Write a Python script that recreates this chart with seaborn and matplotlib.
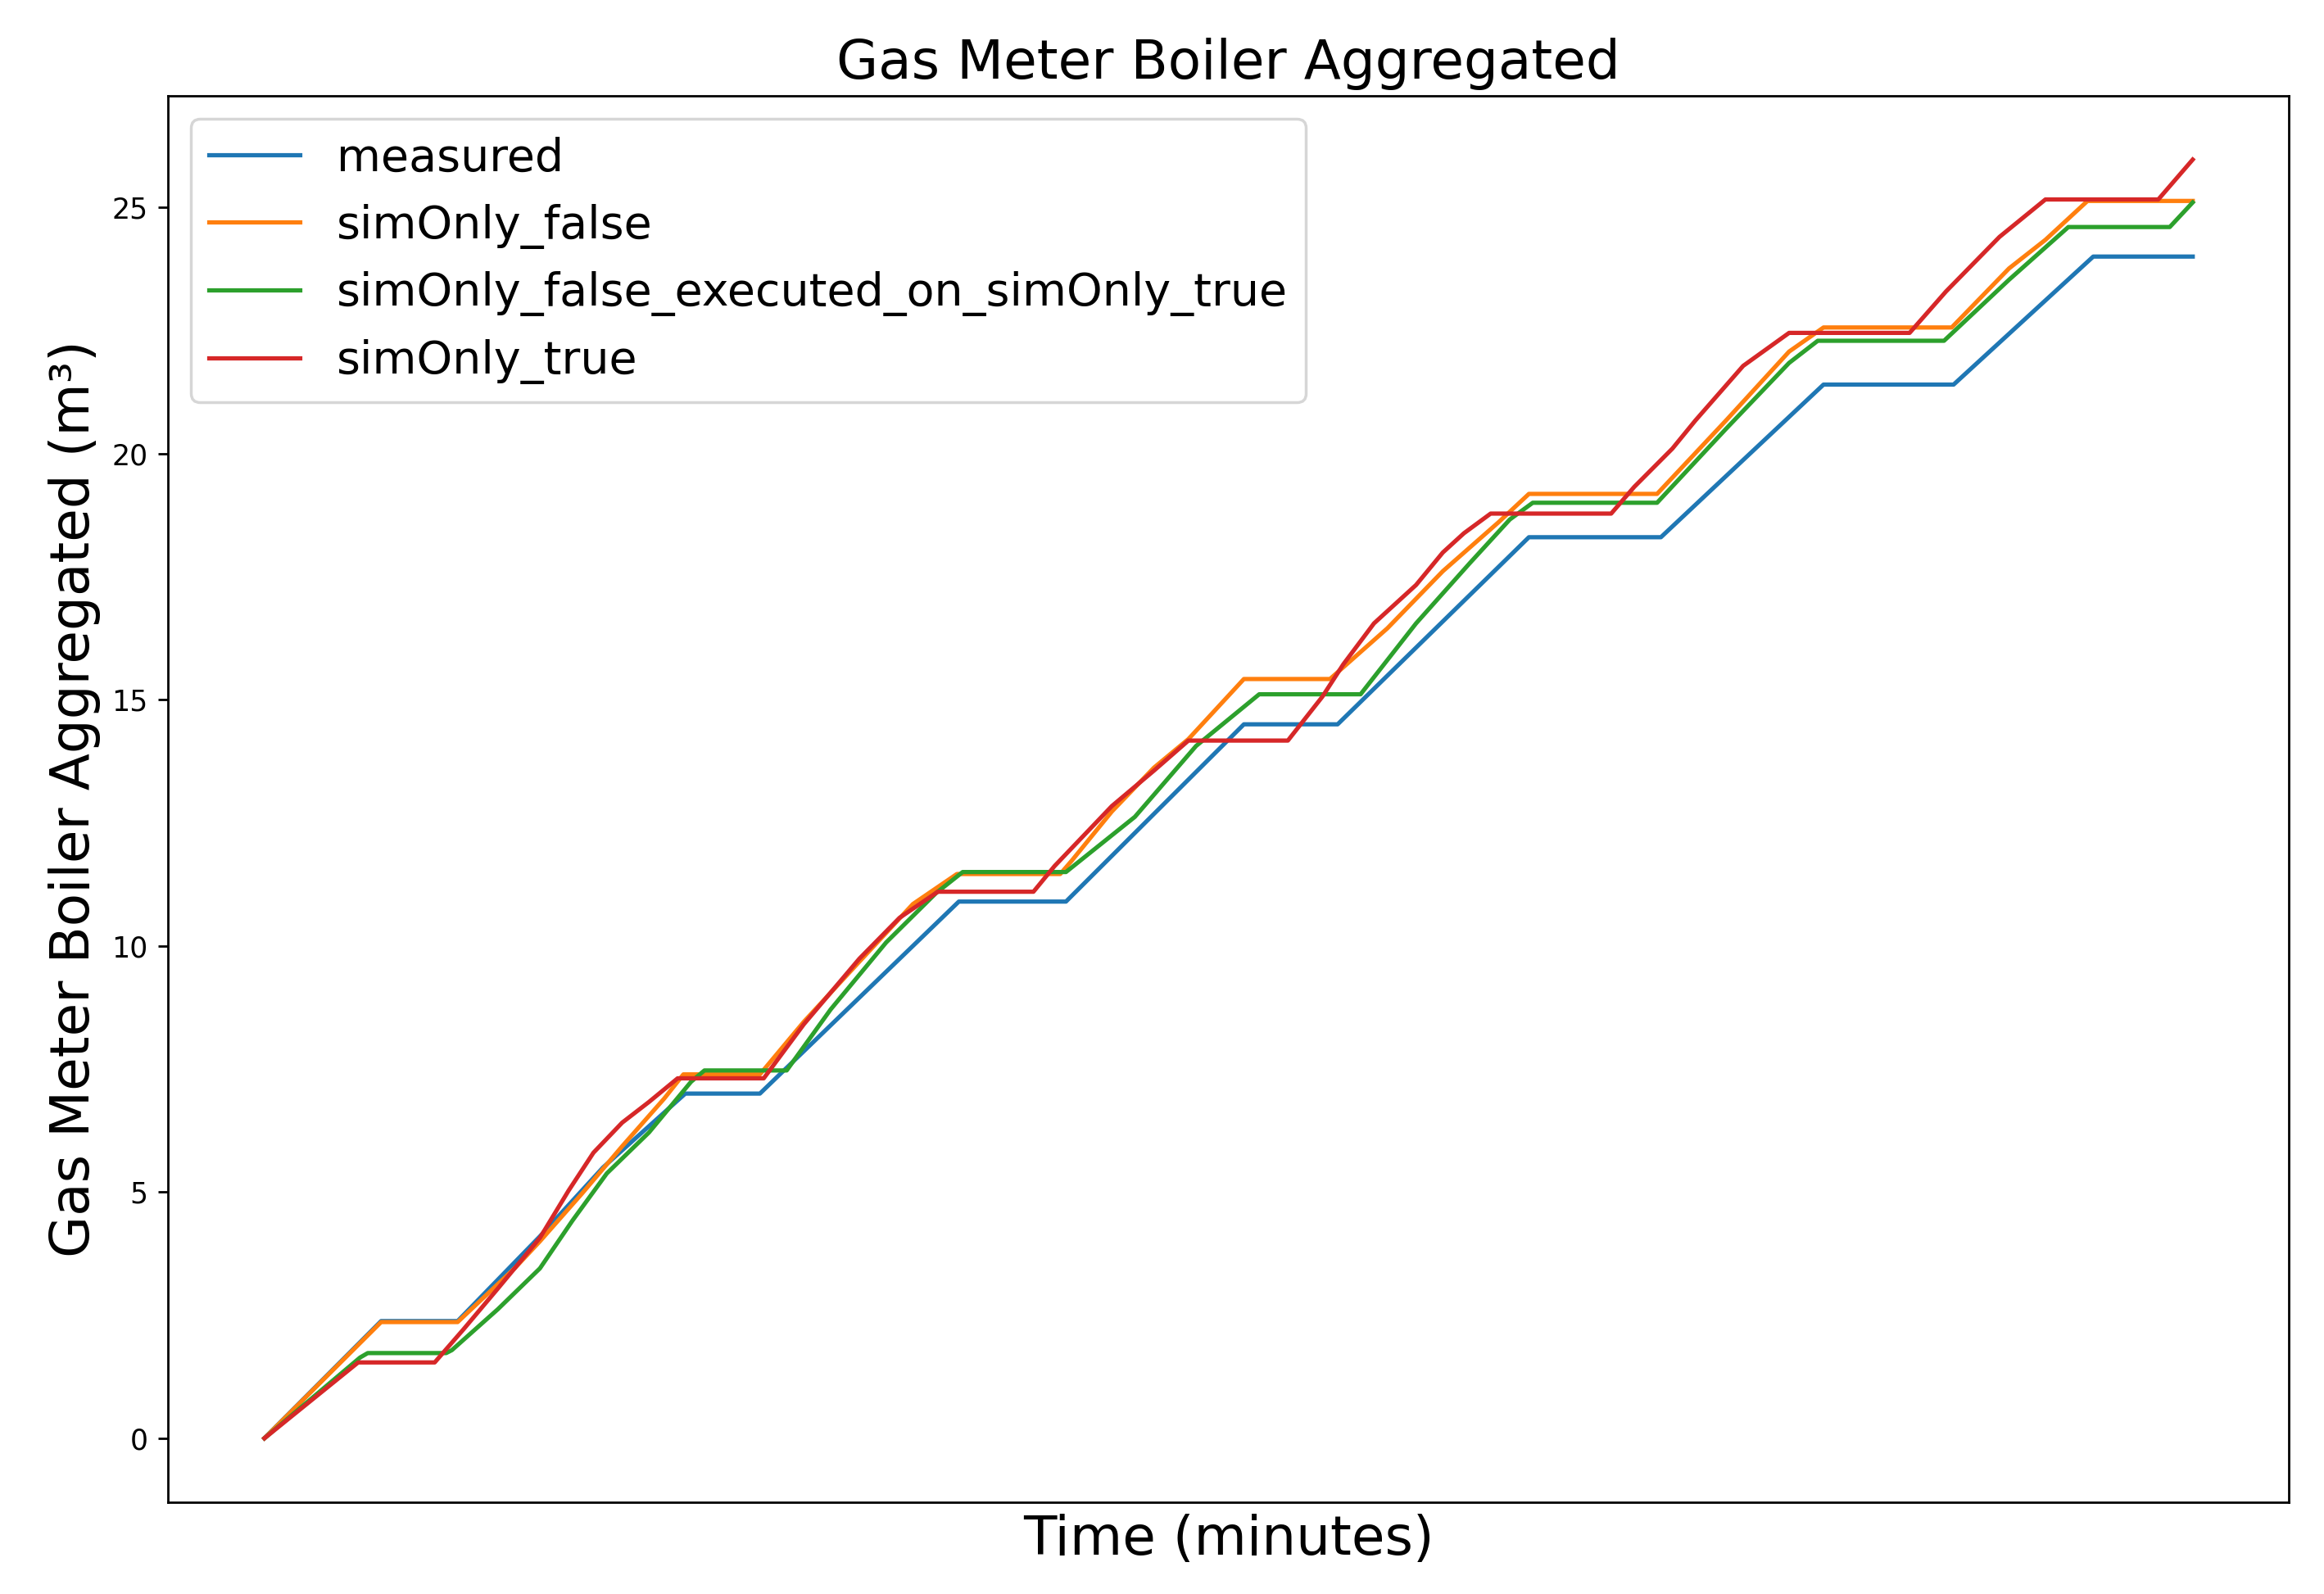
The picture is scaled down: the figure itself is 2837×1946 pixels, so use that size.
import numpy as np
import pandas as pd
import matplotlib
matplotlib.use("Agg")
import matplotlib.pyplot as plt
import seaborn as sns

# values (time in minutes, gas in m3)
measured_t = [0, 610, 1010, 1440, 1770, 2200, 2590, 3630, 4190, 5120, 5610,
              6610, 7300, 8150, 8830, 9560, 10080]
measured_v = [0, 2.38, 2.38, 4.1, 5.5, 7.0, 7.0, 10.9, 10.9, 14.5, 14.5,
              18.3, 18.3, 21.4, 21.4, 24.0, 24.0]

simfalse_t = [0, 610, 1010, 1310, 1440, 1660, 1870, 2090, 2190, 2590, 2820,
              3110, 3390, 3620, 4160, 4220, 4430, 4650, 4830, 5120, 5570,
              5870, 6160, 6450, 6610, 7280, 7640, 7970, 8150, 8820, 9120,
              9310, 9530, 10080]
simfalse_v = [0, 2.36, 2.36, 3.46, 4.0, 4.97, 5.93, 6.9, 7.39, 7.39, 8.46,
              9.68, 10.85, 11.46, 11.46, 11.73, 12.73, 13.62, 14.2, 15.42, 15.42,
              16.45, 17.61, 18.6, 19.18, 19.18, 20.67, 22.07, 22.56, 22.56, 23.76,
              24.34, 25.13, 25.13]

simexec_t = [0, 500, 540, 950, 980, 1220, 1440, 1610, 1790, 2010, 2230,
             2300, 2730, 2960, 3250, 3510, 3650, 4190, 4550, 4870, 5200,
             5730, 6020, 6300, 6510, 6630, 7280, 7640, 7970, 8120, 8780,
             9120, 9430, 9960, 10080]
simexec_v = [0, 1.64, 1.73, 1.73, 1.79, 2.62, 3.45, 4.42, 5.38, 6.21, 7.24,
             7.47, 7.47, 8.71, 10.07, 11.07, 11.5, 11.5, 12.62, 14.06, 15.11,
             15.11, 16.55, 17.77, 18.66, 19.0, 19.0, 20.5, 21.84, 22.29, 22.29,
             23.53, 24.6, 24.6, 25.1]

simtrue_t = [0, 490, 890, 1040, 1220, 1440, 1590, 1720, 1870, 2010, 2160,
             2610, 2820, 3110, 3320, 3520, 4020, 4130, 4430, 4650, 4830,
             5350, 5530, 5640, 5800, 6020, 6160, 6270, 6410, 7040, 7160,
             7360, 7480, 7730, 7970, 8600, 8790, 9070, 9310, 9900, 10080]
simtrue_v = [0, 1.54, 1.54, 2.21, 3.04, 4.07, 5.03, 5.8, 6.41, 6.83, 7.31,
             7.31, 8.41, 9.74, 10.57, 11.1, 11.1, 11.62, 12.84, 13.56, 14.17,
             14.17, 15.06, 15.72, 16.55, 17.33, 17.99, 18.38, 18.78, 18.78, 19.32,
             20.1, 20.67, 21.78, 22.45, 22.45, 23.29, 24.4, 25.16, 25.16, 25.97]

series_names = ["measured", "simOnly_false",
                "simOnly_false_executed_on_simOnly_true", "simOnly_true"]
colors = ["#1f77b4", "#ff7f0e", "#2ca02c", "#d62728"]

# long table for seaborn
frames = []
for name, t, v in zip(series_names,
                      [measured_t, simfalse_t, simexec_t, simtrue_t],
                      [measured_v, simfalse_v, simexec_v, simtrue_v]):
    frames.append(pd.DataFrame({"time": t, "gas": v, "series": name}))
df = pd.concat(frames, ignore_index=True)

fig, ax = plt.subplots(figsize=(2837 / 250, 1946 / 250), dpi=250)
fig.subplots_adjust(left=0.0723, right=0.985, top=0.940, bottom=0.0576)

sns.lineplot(data=df, x="time", y="gas", hue="series", hue_order=series_names,
             palette=colors, estimator=None, sort=False, linewidth=1.5, ax=ax)

ax.set_xticks([])
ax.set_title("Gas Meter Boiler Aggregated", fontsize=19)
ax.set_xlabel("Time (minutes)", fontsize=19)
ax.set_ylabel("Gas Meter Boiler Aggregated (m³)", fontsize=19)
ax.tick_params(axis="y", labelsize=10)
sns.move_legend(ax, "upper left", title=None, fontsize=16)

fig.savefig("out.png", dpi=250)
